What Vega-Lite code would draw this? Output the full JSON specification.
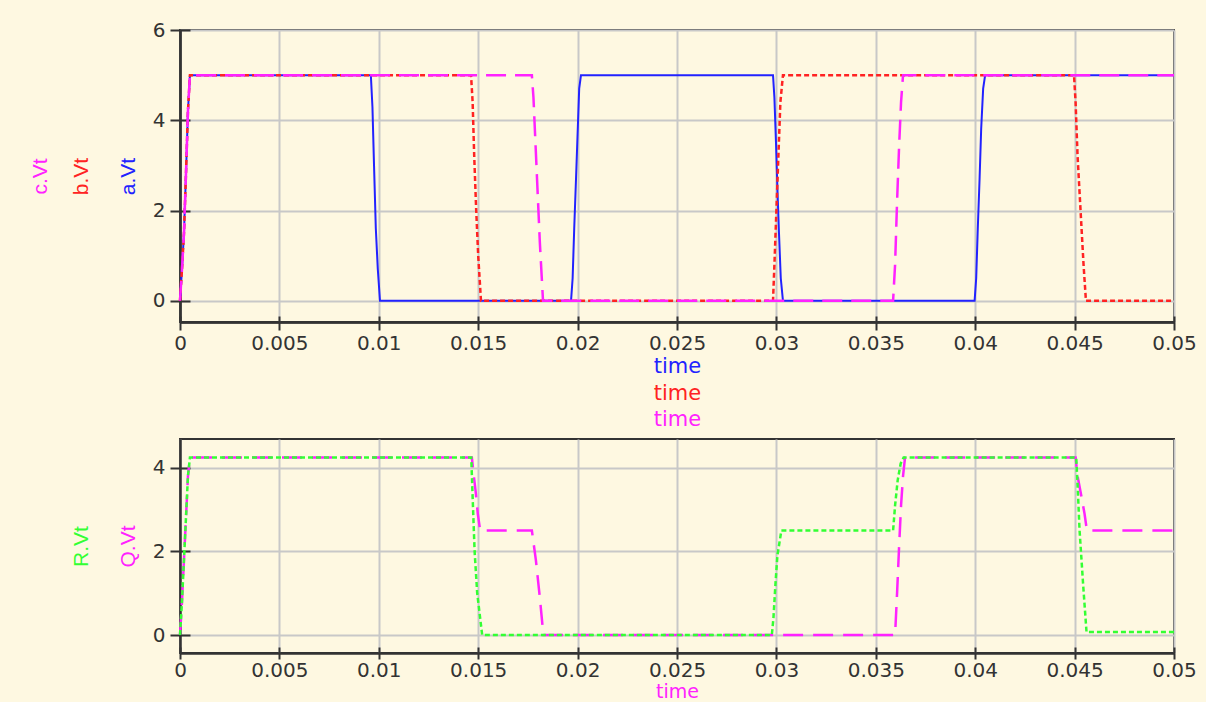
{
  "$schema": "https://vega.github.io/schema/vega-lite/v6.json",
  "background": "#FEF8E1",
  "padding": {"left": 28, "top": 19, "right": 8, "bottom": 0},
  "spacing": 8,
  "config": {
    "view": {"stroke": "#333333", "strokeWidth": 2},
    "axis": {
      "labelFont": "DejaVu Sans", "labelFontSize": 20, "labelColor": "#333333",
      "domainColor": "#333333", "domainWidth": 2, "tickColor": "#333333", "tickWidth": 2,
      "gridColor": "#C8C8C8", "gridWidth": 2, "titleFontWeight": "normal",
      "labelFlush": false, "labelOverlap": false
    }
  },
  "datasets": {
    "a": [{"t":0,"v":0},{"t":0.0001,"v":0.7},{"t":0.0002,"v":1.5},{"t":0.0003,"v":2.8},{"t":0.0004,"v":4.2},{"t":0.0005,"v":5},{"t":0.0096,"v":5},{"t":0.00968,"v":4.3},{"t":0.00976,"v":3.0},{"t":0.00985,"v":1.6},{"t":0.00995,"v":0.7},{"t":0.01006,"v":0},{"t":0.01967,"v":0},{"t":0.01975,"v":0.5},{"t":0.01983,"v":1.6},{"t":0.01992,"v":2.7},{"t":0.02,"v":3.7},{"t":0.02008,"v":4.7},{"t":0.02017,"v":5},{"t":0.02983,"v":5},{"t":0.0299,"v":4.5},{"t":0.02998,"v":3.5},{"t":0.03005,"v":2.5},{"t":0.03013,"v":1.5},{"t":0.03022,"v":0.5},{"t":0.03033,"v":0},{"t":0.03997,"v":0},{"t":0.04005,"v":0.5},{"t":0.04013,"v":1.6},{"t":0.04022,"v":2.7},{"t":0.0403,"v":3.8},{"t":0.0404,"v":4.7},{"t":0.0405,"v":5},{"t":0.05,"v":5}],
    "b": [{"t":0,"v":0},{"t":0.0001,"v":0.7},{"t":0.0002,"v":1.5},{"t":0.0003,"v":2.8},{"t":0.0004,"v":4.2},{"t":0.0005,"v":5},{"t":0.01464,"v":5},{"t":0.01472,"v":4.4},{"t":0.0148,"v":3.2},{"t":0.0149,"v":2.0},{"t":0.015,"v":1.0},{"t":0.01514,"v":0},{"t":0.02983,"v":0},{"t":0.0299,"v":0.8},{"t":0.03,"v":2.0},{"t":0.0301,"v":3.2},{"t":0.0302,"v":4.4},{"t":0.03033,"v":5},{"t":0.04497,"v":5},{"t":0.04505,"v":4.4},{"t":0.04515,"v":3.2},{"t":0.0453,"v":2.0},{"t":0.04545,"v":0.8},{"t":0.04557,"v":0},{"t":0.05,"v":0}],
    "c": [{"t":0,"v":0},{"t":0.0001,"v":0.7},{"t":0.0002,"v":1.5},{"t":0.0003,"v":2.8},{"t":0.0004,"v":4.2},{"t":0.0005,"v":5},{"t":0.0177,"v":5},{"t":0.01778,"v":4.5},{"t":0.01788,"v":3.5},{"t":0.01798,"v":2.5},{"t":0.0181,"v":1.3},{"t":0.01826,"v":0},{"t":0.03587,"v":0},{"t":0.03597,"v":0.8},{"t":0.03607,"v":2.2},{"t":0.03617,"v":3.4},{"t":0.03627,"v":4.4},{"t":0.03637,"v":5},{"t":0.05,"v":5}],
    "Q": [{"t":0,"v":0},{"t":0.0001,"v":0.8},{"t":0.0002,"v":1.8},{"t":0.0003,"v":2.8},{"t":0.0004,"v":3.8},{"t":0.0005,"v":4.25},{"t":0.01468,"v":4.25},{"t":0.01478,"v":3.8},{"t":0.01488,"v":3.4},{"t":0.01498,"v":2.9},{"t":0.0151,"v":2.5},{"t":0.0177,"v":2.5},{"t":0.0179,"v":1.8},{"t":0.0181,"v":0.9},{"t":0.01828,"v":0},{"t":0.03597,"v":0},{"t":0.03607,"v":1.0},{"t":0.03617,"v":2.1},{"t":0.03627,"v":3.1},{"t":0.03637,"v":3.8},{"t":0.03647,"v":4.25},{"t":0.04505,"v":4.25},{"t":0.04515,"v":3.8},{"t":0.04535,"v":3.3},{"t":0.0455,"v":2.9},{"t":0.04562,"v":2.5},{"t":0.05,"v":2.5}],
    "R": [{"t":0,"v":0},{"t":0.0001,"v":0.8},{"t":0.0002,"v":1.8},{"t":0.0003,"v":2.8},{"t":0.0004,"v":3.8},{"t":0.0005,"v":4.25},{"t":0.01465,"v":4.25},{"t":0.01472,"v":3.3},{"t":0.01482,"v":2.0},{"t":0.01495,"v":1.0},{"t":0.0152,"v":0},{"t":0.02977,"v":0},{"t":0.02985,"v":0.4},{"t":0.02995,"v":1.2},{"t":0.03005,"v":1.9},{"t":0.03015,"v":2.2},{"t":0.03025,"v":2.5},{"t":0.03587,"v":2.5},{"t":0.03597,"v":3.1},{"t":0.0361,"v":3.7},{"t":0.03625,"v":4.1},{"t":0.0364,"v":4.25},{"t":0.04508,"v":4.25},{"t":0.04515,"v":3.6},{"t":0.04525,"v":2.5},{"t":0.04543,"v":1.2},{"t":0.0456,"v":0.07},{"t":0.05,"v":0.07}]
  },
  "vconcat": [
    {
      "width": 994,
      "height": 292,
      "resolve": {"axis": {"x": "independent", "y": "independent"}},
      "layer": [
        {
          "data": {"name": "a"},
          "mark": {"type": "line", "color": "#2222FF", "strokeWidth": 2},
          "encoding": {
            "x": {"field": "t", "type": "quantitative", "scale": {"domain": [0, 0.05], "nice": false, "zero": false},
              "axis": {"orient": "bottom", "values": [0,0.005,0.01,0.015,0.02,0.025,0.03,0.035,0.04,0.045,0.05], "format": "~g", "title": "time", "titleColor": "#2222FF", "titleFont": "DejaVu Sans", "titleFontSize": 21, "titlePadding": 2, "tickSize": 8, "labelPadding": 3, "grid": true}},
            "y": {"field": "v", "type": "quantitative", "scale": {"domain": [-0.47, 6], "nice": false, "zero": false},
              "axis": {"orient": "left", "values": [0,2,4,6], "title": "a.Vt", "titleColor": "#2222FF", "titleFont": "Liberation Sans", "titleFontSize": 21, "titlePadding": 14, "tickSize": 10, "labelPadding": 5, "grid": true}}
          }
        },
        {
          "data": {"name": "b"},
          "mark": {"type": "line", "color": "#FF2222", "strokeWidth": 2.5, "strokeDash": [5, 3]},
          "encoding": {
            "x": {"field": "t", "type": "quantitative", "scale": {"domain": [0, 0.05], "nice": false, "zero": false},
              "axis": {"orient": "bottom", "values": [0,0.005,0.01,0.015,0.02,0.025,0.03,0.035,0.04,0.045,0.05], "labels": false, "grid": false, "tickSize": -6, "title": "time", "titleColor": "#FF2222", "titleFont": "DejaVu Sans", "titleFontSize": 21, "titlePadding": 59}},
            "y": {"field": "v", "type": "quantitative", "scale": {"domain": [-0.47, 6], "nice": false, "zero": false},
              "axis": {"orient": "left", "values": [0,2,4,6], "labels": false, "grid": false, "tickSize": -10, "title": "b.Vt", "titleColor": "#FF2222", "titleFont": "Liberation Sans", "titleFontSize": 21, "titlePadding": 88}}
          }
        },
        {
          "data": {"name": "c"},
          "mark": {"type": "line", "color": "#FF22FF", "strokeWidth": 2.5, "strokeDash": [20, 9]},
          "encoding": {
            "x": {"field": "t", "type": "quantitative", "scale": {"domain": [0, 0.05], "nice": false, "zero": false},
              "axis": {"orient": "bottom", "labels": false, "ticks": false, "grid": false, "title": "time", "titleColor": "#FF22FF", "titleFont": "DejaVu Sans", "titleFontSize": 21, "titlePadding": 86}},
            "y": {"field": "v", "type": "quantitative", "scale": {"domain": [-0.47, 6], "nice": false, "zero": false},
              "axis": {"orient": "left", "labels": false, "ticks": false, "grid": false, "title": "c.Vt", "titleColor": "#FF22FF", "titleFont": "Liberation Sans", "titleFontSize": 21, "titlePadding": 130}}
          }
        }
      ]
    },
    {
      "width": 994,
      "height": 214,
      "resolve": {"axis": {"x": "independent", "y": "independent"}},
      "layer": [
        {
          "data": {"name": "Q"},
          "mark": {"type": "line", "color": "#FF22FF", "strokeWidth": 2.5, "strokeDash": [20, 10]},
          "encoding": {
            "x": {"field": "t", "type": "quantitative", "scale": {"domain": [0, 0.05], "nice": false, "zero": false},
              "axis": {"orient": "bottom", "values": [0,0.005,0.01,0.015,0.02,0.025,0.03,0.035,0.04,0.045,0.05], "format": "~g", "title": "time", "titleColor": "#FF22FF", "titleFont": "DejaVu Sans", "titleFontSize": 19, "titlePadding": 2, "tickSize": 6, "labelPadding": 1, "grid": true}},
            "y": {"field": "v", "type": "quantitative", "scale": {"domain": [-0.43, 4.69], "nice": false, "zero": false},
              "axis": {"orient": "left", "values": [0,2,4], "title": "Q.Vt", "titleColor": "#FF22FF", "titleFont": "Liberation Sans", "titleFontSize": 21, "titlePadding": 14, "tickSize": 10, "labelPadding": 5, "grid": true}}
          }
        },
        {
          "data": {"name": "R"},
          "mark": {"type": "line", "color": "#33FF33", "strokeWidth": 2.5, "strokeDash": [5, 3]},
          "encoding": {
            "x": {"field": "t", "type": "quantitative", "scale": {"domain": [0, 0.05], "nice": false, "zero": false},
              "axis": {"orient": "bottom", "values": [0,0.005,0.01,0.015,0.02,0.025,0.03,0.035,0.04,0.045,0.05], "labels": false, "grid": false, "tickSize": -6, "title": null}},
            "y": {"field": "v", "type": "quantitative", "scale": {"domain": [-0.43, 4.69], "nice": false, "zero": false},
              "axis": {"orient": "left", "values": [0,2,4], "labels": false, "grid": false, "tickSize": -10, "title": "R.Vt", "titleColor": "#33FF33", "titleFont": "Liberation Sans", "titleFontSize": 21, "titlePadding": 88}}
          }
        }
      ]
    }
  ]
}
